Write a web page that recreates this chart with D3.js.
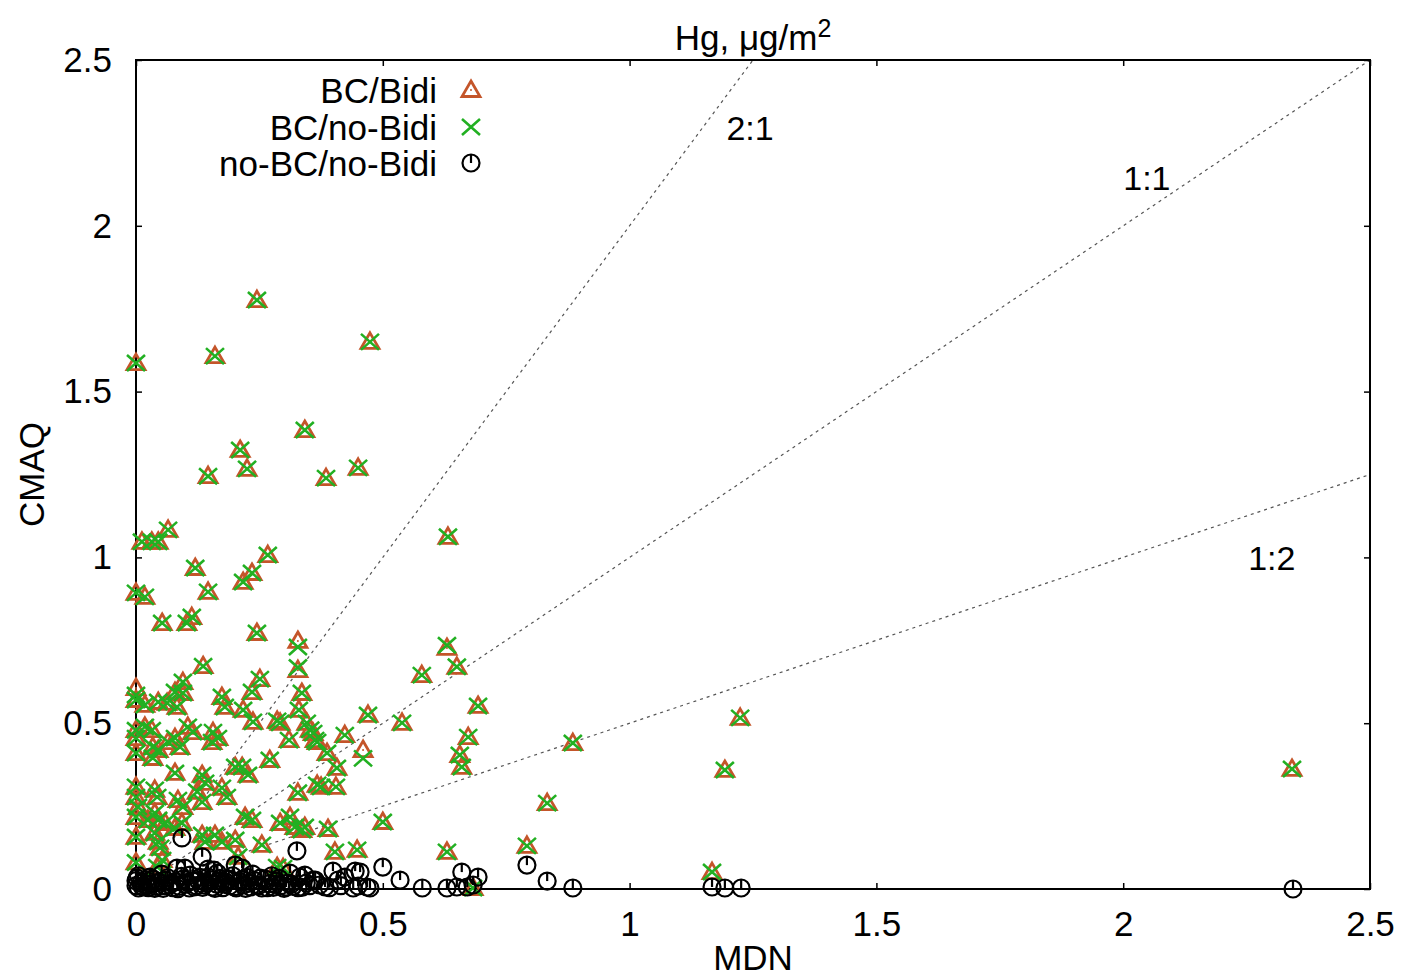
<!DOCTYPE html>
<html><head><meta charset="utf-8">
<script src="https://cdn.jsdelivr.net/npm/d3@7"></script>
<style>
html,body{margin:0;padding:0;background:#fff;}
text{font-family:"Liberation Sans",Arial,Helvetica,sans-serif;fill:#000;}
</style></head>
<body>
<svg id="chart" width="1404" height="980"></svg>
<script>
// ---------- data ----------
const xTicks = [0, 0.5, 1, 1.5, 2, 2.5];
const xTickLabels = ["0", "0.5", "1", "1.5", "2", "2.5"];
const yTicks = [0, 0.5, 1, 1.5, 2, 2.5];
const yTickLabels = ["0", "0.5", "1", "1.5", "2", "2.5"];

const seriesNames = ["BC/Bidi", "BC/no-Bidi", "no-BC/no-Bidi"];

const ratioValues = [2, 1, 0.5];
const ratioLabels = ["2:1", "1:1", "1:2"];
const ratioLabelX = [1.244, 2.048, 2.301];
const ratioLabelY = [2.297, 2.144, 0.998];

// MDN for BC runs
const mdnBC = [0.000,0.245,0.160,0.474,0.342,0.211,0.146,0.225,0.385,0.450,
0.632,0.012,0.032,0.045,0.065,0.267,0.120,0.235,0.217,0.146,
0.000,0.018,0.053,0.103,0.113,0.245,0.328,0.328,0.136,0.630,
0.650,0.579,0.095,0.079,0.251,0.235,0.000,0.018,0.045,0.063,
0.083,0.095,0.174,0.180,0.217,0.237,0.286,0.330,0.336,0.310,
0.346,0.353,0.363,0.000,0.018,0.032,0.105,0.115,0.065,0.034,
0.045,0.079,0.089,0.156,0.166,0.154,0.000,0.000,0.034,0.079,
0.134,0.140,0.124,0.134,0.174,0.184,0.201,0.215,0.227,0.271,
0.328,0.367,0.000,0.000,0.004,0.000,0.000,0.038,0.043,0.038,
0.024,0.045,0.059,0.085,0.095,0.093,0.079,0.038,0.045,0.049,
0.053,0.043,0.134,0.160,0.174,0.140,0.201,0.221,0.235,0.255,
0.286,0.207,0.292,0.312,0.322,0.342,0.387,0.423,0.470,0.460,
0.407,0.375,0.405,0.539,0.693,0.673,0.656,0.660,0.389,0.500,
0.403,0.448,0.630,0.792,0.885,1.224,1.193,0.833,1.167,2.342,
0.336,0.298,0.683,0.292,0.359,0.367,0.000,0.000];

// CMAQ with boundary conditions and bidirectional exchange
const cmaqBidi = [1.586,1.776,1.607,1.650,1.384,1.324,1.245,1.267,1.239,1.270,
1.062,1.047,1.047,1.047,1.083,1.007,0.968,0.953,0.926,0.896,
0.893,0.881,0.802,0.802,0.820,0.772,0.748,0.660,0.672,0.727,
0.670,0.645,0.624,0.594,0.633,0.594,0.606,0.555,0.564,0.561,
0.549,0.591,0.579,0.549,0.540,0.504,0.507,0.540,0.591,0.449,
0.501,0.480,0.449,0.479,0.489,0.479,0.489,0.473,0.443,0.428,
0.419,0.455,0.428,0.473,0.455,0.443,0.410,0.455,0.395,0.350,
0.344,0.320,0.293,0.262,0.305,0.277,0.368,0.368,0.344,0.389,
0.290,0.314,0.308,0.277,0.247,0.217,0.157,0.299,0.277,0.229,
0.208,0.208,0.199,0.268,0.247,0.199,0.184,0.169,0.142,0.124,
0.087,0.066,0.163,0.163,0.142,0.142,0.148,0.217,0.208,0.133,
0.066,0.097,0.199,0.217,0.187,0.187,0.410,0.464,0.525,0.419,
0.365,0.308,0.308,0.501,0.552,0.458,0.404,0.368,0.181,0.202,
0.112,0.118,0.112,0.130,0.440,0.516,0.359,0.259,0.051,0.362,
0.178,0.063,0.003,0.501,0.470,0.443,0.080,0.570];

// CMAQ with boundary conditions, no bidirectional exchange
const cmaqNoBidi = [1.586,1.776,1.607,1.650,1.384,1.324,1.245,1.267,1.239,1.270,
1.062,1.047,1.047,1.047,1.083,1.007,0.968,0.953,0.926,0.896,
0.893,0.881,0.802,0.802,0.820,0.772,0.730,0.668,0.672,0.735,
0.670,0.645,0.624,0.594,0.633,0.594,0.585,0.555,0.564,0.561,
0.549,0.591,0.579,0.549,0.540,0.504,0.507,0.540,0.591,0.449,
0.501,0.480,0.449,0.479,0.489,0.479,0.489,0.473,0.443,0.428,
0.419,0.455,0.428,0.473,0.455,0.443,0.410,0.455,0.395,0.350,
0.344,0.320,0.293,0.262,0.305,0.277,0.368,0.368,0.344,0.389,
0.290,0.314,0.308,0.277,0.247,0.217,0.157,0.299,0.277,0.229,
0.208,0.208,0.199,0.268,0.247,0.199,0.184,0.169,0.142,0.124,
0.087,0.066,0.163,0.163,0.142,0.142,0.148,0.217,0.208,0.133,
0.066,0.097,0.199,0.217,0.187,0.187,0.410,0.464,0.525,0.394,
0.365,0.308,0.308,0.501,0.552,0.458,0.404,0.368,0.181,0.202,
0.112,0.118,0.112,0.130,0.440,0.516,0.359,0.259,0.051,0.362,
0.178,0.063,0.003,0.501,0.470,0.443,0.080,0.570];

// no boundary conditions, no bidirectional exchange
const mdnNoBC = [0.093,0.134,0.326,0.201,0.083,0.099,0.146,0.158,0.215,0.312,
0.342,0.363,0.399,0.444,0.423,0.383,0.450,0.500,0.535,0.580,
0.630,0.660,0.693,0.650,0.671,0.683,0.792,0.833,0.885,1.167,
1.193,1.226,2.344,0.454,0.468,0.474,0.332,0.359,0.409,
0.000,0.000,0.005,0.010,0.015,0.020,0.025,0.030,0.035,0.040,
0.048,0.055,0.060,0.068,0.075,0.080,0.088,0.095,0.100,0.108,
0.115,0.122,0.130,0.135,0.142,0.150,0.155,0.163,0.170,0.176,
0.183,0.190,0.196,0.203,0.210,0.218,0.225,0.232,0.240,0.248,
0.255,0.262,0.270,0.278,0.285,0.293,0.300,0.308,0.318,0.328,
0.005,0.052,0.110,0.165,0.236,0.275,
0.002,0.012,0.022,0.028,0.038,0.044,0.058,0.064,0.072,0.085,
0.092,0.104,0.118,0.126,0.138,0.146,0.160,0.168,0.180,0.188,
0.199,0.214,0.222,0.229,0.244,0.252,0.266,0.282,0.290,0.304,
0.315,0.336,0.345,0.352,0.372,0.392,0.415,0.440];
const cmaqNoBC = [0.154,0.097,0.115,0.072,0.063,0.063,0.060,0.057,0.063,0.048,
0.042,0.027,0.054,0.054,0.036,0.006,0.009,0.066,0.027,0.003,
0.003,0.051,0.036,0.006,0.006,0.012,0.072,0.024,0.003,0.006,
0.003,0.003,0.000,0.051,0.006,0.003,0.036,0.027,0.027,
0.010,0.025,0.003,0.018,0.006,0.028,0.004,0.015,0.030,0.008,
0.020,0.002,0.026,0.012,0.004,0.022,0.008,0.030,0.014,0.003,
0.024,0.010,0.035,0.005,0.018,0.028,0.006,0.015,0.032,0.004,
0.020,0.010,0.040,0.003,0.022,0.012,0.035,0.006,0.025,0.010,
0.003,0.030,0.016,0.005,0.024,0.010,0.002,0.018,0.008,0.004,
0.040,0.045,0.042,0.048,0.045,0.040,
0.033,0.008,0.012,0.036,0.002,0.020,0.010,0.034,0.018,0.001,
0.038,0.020,0.006,0.026,0.012,0.036,0.002,0.024,0.014,0.030,
0.007,0.028,0.002,0.018,0.012,0.033,0.004,0.014,0.032,0.006,
0.015,0.005,0.018,0.010,0.012,0.004,0.010,0.003];

// ---------- drawing ----------
const L = 136, R = 1370, T = 60, B = 889;
const svg = d3.select("#chart");
const x = d3.scaleLinear().domain([0, 2.5]).range([L, R]);
const y = d3.scaleLinear().domain([0, 2.5]).range([B, T]);

const colTri = "#c4552a", colX = "#22b022", colC = "#000";
const FS = 35;

// ratio lines
const lines = svg.append("g");
ratioValues.forEach((r, i) => {
  const xe = Math.min(2.5, 2.5 / r);
  lines.append("line")
    .attr("x1", x(0)).attr("y1", y(0))
    .attr("x2", x(xe)).attr("y2", y(r * xe))
    .attr("stroke", "#555").attr("stroke-width", 1.2)
    .attr("stroke-dasharray", "3,4");
  lines.append("text")
    .attr("x", x(ratioLabelX[i])).attr("y", y(ratioLabelY[i]))
    .attr("dy", "0.36em").attr("text-anchor", "middle")
    .style("font-size", "34px").text(ratioLabels[i]);
});

// axes (inward ticks, mirrored)
function styleAxis(g) {
  g.select(".domain").remove();
  g.selectAll(".tick line").attr("stroke", "#000").attr("stroke-width", 1.5);
  g.selectAll(".tick text").style("font-size", FS + "px")
    .style("font-family", "'Liberation Sans',Arial,sans-serif").attr("fill", "#000");
}
svg.append("g").attr("transform", `translate(0,${B})`)
  .call(d3.axisBottom(x).tickValues(xTicks).tickSize(-6).tickPadding(22)
    .tickFormat((d, i) => xTickLabels[i]))
  .call(styleAxis);
svg.append("g").attr("transform", `translate(0,${T})`)
  .call(d3.axisTop(x).tickValues(xTicks).tickSize(-6).tickFormat(""))
  .call(styleAxis);
svg.append("g").attr("transform", `translate(${L},0)`)
  .call(d3.axisLeft(y).tickValues(yTicks).tickSize(-6).tickPadding(24)
    .tickFormat((d, i) => yTickLabels[i]))
  .call(styleAxis);
svg.append("g").attr("transform", `translate(${R},0)`)
  .call(d3.axisRight(y).tickValues(yTicks).tickSize(-6).tickFormat(""))
  .call(styleAxis);

svg.append("rect").attr("x", L).attr("y", T).attr("width", R - L).attr("height", B - T)
  .attr("fill", "none").attr("stroke", "#000").attr("stroke-width", 2);

// marker generators
const triPath = "M0,-9L9,6.5L-9,6.5Z";
const crossPath = "M-9,-8L9,8M-9,8L9,-8";
function drawTri(g) {
  g.append("path").attr("d", triPath).attr("fill", "none")
    .attr("stroke", colTri).attr("stroke-width", 2.8).attr("stroke-linejoin", "miter");
  g.append("circle").attr("r", 1).attr("fill", colTri);
}
function drawCross(g) {
  g.append("path").attr("d", crossPath).attr("fill", "none")
    .attr("stroke", colX).attr("stroke-width", 2.6);
}
function drawCirc(g) {
  g.append("circle").attr("r", 8.5).attr("fill", "none")
    .attr("stroke", colC).attr("stroke-width", 2.2);
  g.append("line").attr("x1", 0).attr("y1", 0).attr("x2", 0).attr("y2", -8.5)
    .attr("stroke", colC).attr("stroke-width", 2.2);
}

const bcIdx = d3.range(mdnBC.length);
svg.append("g").selectAll("g").data(bcIdx).join("g")
  .attr("transform", i => `translate(${x(mdnBC[i])},${y(cmaqBidi[i])})`)
  .each(function () { drawTri(d3.select(this)); });
svg.append("g").selectAll("g").data(bcIdx).join("g")
  .attr("transform", i => `translate(${x(mdnBC[i])},${y(cmaqNoBidi[i])})`)
  .each(function () { drawCross(d3.select(this)); });
svg.append("g").selectAll("g").data(d3.range(mdnNoBC.length)).join("g")
  .attr("transform", i => `translate(${x(mdnNoBC[i])},${y(cmaqNoBC[i])})`)
  .each(function () { drawCirc(d3.select(this)); });

// legend
const legRows = [90, 127, 163];
const legDraw = [drawTri, drawCross, drawCirc];
seriesNames.forEach((name, i) => {
  svg.append("text").attr("x", 437).attr("y", legRows[i]).attr("dy", "0.36em")
    .attr("text-anchor", "end").style("font-size", FS + "px").text(name);
  const g = svg.append("g").attr("transform", `translate(471,${legRows[i]})`);
  legDraw[i](g);
});

// titles
const title = svg.append("text").attr("x", (L + R) / 2).attr("y", 50)
  .attr("text-anchor", "middle").style("font-size", "35px");
title.append("tspan").text("Hg, \u03BCg/m");
title.append("tspan").attr("dy", -13).style("font-size", "25px").text("2");

svg.append("text").attr("x", (L + R) / 2).attr("y", 957).attr("dy", "0.36em")
  .attr("text-anchor", "middle").style("font-size", FS + "px").text("MDN");
svg.append("text").attr("transform", `translate(31,${(T + B) / 2}) rotate(-90)`)
  .attr("dy", "0.36em").attr("text-anchor", "middle")
  .style("font-size", FS + "px").text("CMAQ");
</script>
</body></html>
